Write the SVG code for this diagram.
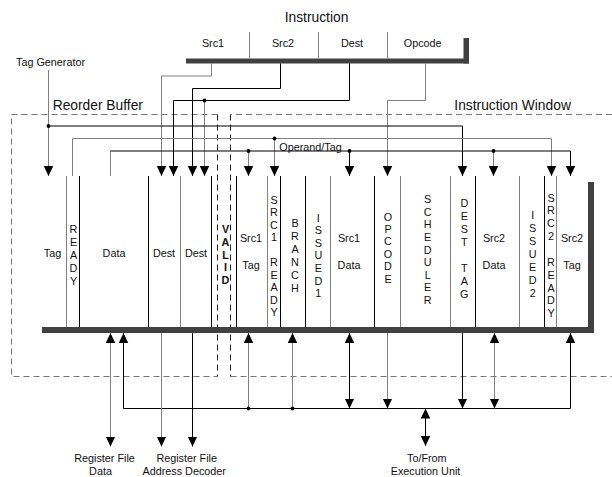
<svg xmlns="http://www.w3.org/2000/svg" width="612" height="477" viewBox="0 0 612 477">
<defs>
<marker id="ah" markerUnits="userSpaceOnUse" markerWidth="10" markerHeight="11" refX="10.5" refY="5" orient="auto-start-reverse" viewBox="0 0 10.5 10">
<path d="M0,0 L10.5,5 L0,10 z" fill="#000"/>
</marker>
</defs>
<style>
text{font-family:"Liberation Sans",Arial,sans-serif;fill:#111}
.big{font-size:13.8px}
.sm{font-size:10.8px}
.c{text-anchor:middle}
.g{stroke:#808080;stroke-width:1;fill:none}
.k{stroke:#000;stroke-width:1;fill:none}
.a{marker-end:url(#ah)}
.aa{marker-start:url(#ah);marker-end:url(#ah)}
.bar{fill:#404040}
.dash{stroke:#777;stroke-width:1;fill:none;stroke-dasharray:6 4}
.dashk{stroke:#222;stroke-width:1;fill:none;stroke-dasharray:6 4}
.dot{fill:#000}
</style>

<!-- Instruction -->
<g id="instruction">
<text class="big c" x="316.5" y="21.5">Instruction</text>
<rect class="bar" x="186" y="58.5" width="283" height="5"/>
<rect class="bar" x="463.5" y="38" width="5.5" height="25.5"/>
<line class="g" x1="249.5" y1="32" x2="249.5" y2="58.5"/>
<line class="g" x1="318.5" y1="32" x2="318.5" y2="58.5"/>
<line class="g" x1="387.5" y1="32" x2="387.5" y2="58.5"/>
<text class="sm c" x="213" y="47">Src1</text>
<text class="sm c" x="283" y="47">Src2</text>
<text class="sm c" x="352" y="47">Dest</text>
<text class="sm c" x="422.7" y="47">Opcode</text>
</g>

<g id="tag-generator">
<text class="sm" x="16" y="66">Tag Generator</text>
</g>

<!-- Dashed boxes -->
<g id="reorder-buffer">
<path class="dash" d="M217.5,114.5 H11.5 V376.5 H217.5"/>
<path class="dashk" d="M217.5,114.5 V376.5"/>
<text class="big" x="52.7" y="110">Reorder Buffer</text>
</g>
<g id="instruction-window">
<path class="dash" d="M612,114.5 H230.5 M230.5,376.5 H612"/>
<path class="dashk" d="M230.5,114.5 V376.5"/>
<text class="big" x="454.3" y="110">Instruction Window</text>
</g>

<!-- Register block -->
<g id="register-block">
<rect class="bar" x="42" y="327" width="552" height="6"/>
<rect class="bar" x="588" y="182" width="6" height="151"/>
<g>
<line class="g" x1="66.5" y1="176" x2="66.5" y2="327"/>
<line class="k" x1="79.5" y1="176" x2="79.5" y2="327"/>
<line class="k" x1="148.5" y1="176" x2="148.5" y2="327"/>
<line class="g" x1="180.5" y1="176" x2="180.5" y2="327"/>
<line class="k" x1="211.5" y1="176" x2="211.5" y2="327"/>
<line class="k" x1="236.5" y1="176" x2="236.5" y2="327"/>
<line class="g" x1="267.5" y1="176" x2="267.5" y2="327"/>
<line class="k" x1="280.5" y1="176" x2="280.5" y2="327"/>
<line class="k" x1="305.5" y1="176" x2="305.5" y2="327"/>
<line class="g" x1="330.5" y1="176" x2="330.5" y2="327"/>
<line class="k" x1="374.5" y1="176" x2="374.5" y2="327"/>
<line class="g" x1="400.5" y1="176" x2="400.5" y2="327"/>
<line class="g" x1="450.5" y1="176" x2="450.5" y2="327"/>
<line class="k" x1="475.5" y1="176" x2="475.5" y2="327"/>
<line class="g" x1="519.5" y1="176" x2="519.5" y2="327"/>
<line class="k" x1="544.5" y1="176" x2="544.5" y2="327"/>
<line class="g" x1="556.5" y1="176" x2="556.5" y2="327"/>
</g>
</g>

<g id="col-tag"><text class="sm c" x="52.5" y="257">Tag</text></g>
<g id="col-ready"><text class="sm c" y="233"><tspan x="73.5">R</tspan><tspan x="73.5" dy="12.9">E</tspan><tspan x="73.5" dy="12.9">A</tspan><tspan x="73.5" dy="12.9">D</tspan><tspan x="73.5" dy="12.9">Y</tspan></text></g>
<g id="col-data"><text class="sm c" x="114" y="257">Data</text></g>
<g id="col-dest1"><text class="sm c" x="164" y="257">Dest</text></g>
<g id="col-dest2"><text class="sm c" x="196" y="257">Dest</text></g>
<g id="col-valid"><text class="sm c" y="233" font-weight="bold"><tspan x="225.5">V</tspan><tspan x="225.5" dy="12.8">A</tspan><tspan x="225.5" dy="12.8">L</tspan><tspan x="225.5" dy="12.8">I</tspan><tspan x="225.5" dy="12.8">D</tspan></text></g>
<g id="col-src1tag"><text class="sm c" x="251" y="242">Src1</text><text class="sm c" x="251" y="269">Tag</text></g>
<g id="col-src1ready"><text class="sm c" y="203.5"><tspan x="274">S</tspan><tspan x="274" dy="12.5">R</tspan><tspan x="274" dy="12.5">C</tspan><tspan x="274" dy="12.5">1</tspan><tspan x="274" dy="25">R</tspan><tspan x="274" dy="12.5">E</tspan><tspan x="274" dy="12.5">A</tspan><tspan x="274" dy="12.5">D</tspan><tspan x="274" dy="12.5">Y</tspan></text></g>
<g id="col-branch"><text class="sm c" y="227.2"><tspan x="295">B</tspan><tspan x="295" dy="13">R</tspan><tspan x="295" dy="13">A</tspan><tspan x="295" dy="13">N</tspan><tspan x="295" dy="13">C</tspan><tspan x="295" dy="13">H</tspan></text></g>
<g id="col-issued1"><text class="sm c" y="221.6"><tspan x="318.3">I</tspan><tspan x="318.3" dy="12.6">S</tspan><tspan x="318.3" dy="12.6">S</tspan><tspan x="318.3" dy="12.6">U</tspan><tspan x="318.3" dy="12.6">E</tspan><tspan x="318.3" dy="12.6">D</tspan><tspan x="318.3" dy="12.6">1</tspan></text></g>
<g id="col-src1data"><text class="sm c" x="349" y="242">Src1</text><text class="sm c" x="349" y="269">Data</text></g>
<g id="col-opcode"><text class="sm c" y="220.6"><tspan x="388">O</tspan><tspan x="388" dy="12.4">P</tspan><tspan x="388" dy="12.4">C</tspan><tspan x="388" dy="12.4">O</tspan><tspan x="388" dy="12.4">D</tspan><tspan x="388" dy="12.4">E</tspan></text></g>
<g id="col-scheduler"><text class="sm c" y="203.2"><tspan x="427.7">S</tspan><tspan x="427.7" dy="12.6">C</tspan><tspan x="427.7" dy="12.6">H</tspan><tspan x="427.7" dy="12.6">E</tspan><tspan x="427.7" dy="12.6">D</tspan><tspan x="427.7" dy="12.6">U</tspan><tspan x="427.7" dy="12.6">L</tspan><tspan x="427.7" dy="12.6">E</tspan><tspan x="427.7" dy="12.6">R</tspan></text></g>
<g id="col-desttag"><text class="sm c" y="207.2"><tspan x="464.3">D</tspan><tspan x="464.3" dy="12.95">E</tspan><tspan x="464.3" dy="12.95">S</tspan><tspan x="464.3" dy="12.95">T</tspan><tspan x="464.3" dy="25.9">T</tspan><tspan x="464.3" dy="12.95">A</tspan><tspan x="464.3" dy="12.95">G</tspan></text></g>
<g id="col-src2data"><text class="sm c" x="494" y="242">Src2</text><text class="sm c" x="494" y="269">Data</text></g>
<g id="col-issued2"><text class="sm c" y="219"><tspan x="532.7">I</tspan><tspan x="532.7" dy="13">S</tspan><tspan x="532.7" dy="13">S</tspan><tspan x="532.7" dy="13">U</tspan><tspan x="532.7" dy="13">E</tspan><tspan x="532.7" dy="13">D</tspan><tspan x="532.7" dy="13">2</tspan></text></g>
<g id="col-src2ready"><text class="sm c" y="201.6"><tspan x="551">S</tspan><tspan x="551" dy="12.85">R</tspan><tspan x="551" dy="12.85">C</tspan><tspan x="551" dy="12.85">2</tspan><tspan x="551" dy="25.7">R</tspan><tspan x="551" dy="12.85">E</tspan><tspan x="551" dy="12.85">A</tspan><tspan x="551" dy="12.85">D</tspan><tspan x="551" dy="12.85">Y</tspan></text></g>
<g id="col-src2tag"><text class="sm c" x="572" y="242">Src2</text><text class="sm c" x="572" y="269">Tag</text></g>

<g id="operand-tag-label"><text class="sm" x="279.3" y="150.5">Operand/Tag</text></g>

<!-- Bottom labels -->
<g id="register-file-data"><text class="sm c" x="104.5" y="462">Register File</text><text class="sm c" x="100.5" y="475">Data</text></g>
<g id="register-file-address-decoder"><text class="sm c" x="186.7" y="462">Register File</text><text class="sm c" x="184.2" y="475">Address Decoder</text></g>
<g id="execution-unit"><text class="sm c" x="426.8" y="462">To/From</text><text class="sm c" x="425.5" y="475">Execution Unit</text></g>

<!-- Connectors -->
<g id="connectors">
<!-- top -->
<path class="g a" d="M211.5,63.5 V76 H161.5 V176"/>
<path class="k a" d="M280.5,63.5 V88.5 H192.5 V176"/>
<path class="k a" d="M349.5,63.5 V100.5 H173.5 V176"/>
<path class="g a" d="M204.5,100.5 V176"/>
<path class="g a" d="M425.5,63.5 V100.5 H387.5 V176"/>
<path class="g a" d="M48.5,70 V176"/>
<path class="k a" d="M48.5,126 H462.5 V176"/>
<path class="g" d="M72.5,176 V138.5 H551.5"/>
<path class="g a" d="M551.5,138.5 V176"/>
<path class="g a" d="M274.5,138.5 V176"/>
<path class="g" d="M110.5,176 V151"/>
<path class="k a" d="M110.5,151 H570.5 V176"/>
<path class="g a" d="M248.5,151 V176"/>
<path class="k a" d="M349.5,151 V176"/>
<path class="g a" d="M493.5,151 V176"/>
<circle class="dot" cx="204.5" cy="100.5" r="1.9"/>
<circle class="dot" cx="48.5" cy="126" r="1.9"/>
<circle class="dot" cx="274.5" cy="138.5" r="1.9"/>
<circle class="dot" cx="248.5" cy="151" r="1.9"/>
<circle class="dot" cx="349.5" cy="151" r="1.9"/>
<circle class="dot" cx="493.5" cy="151" r="1.9"/>
<!-- bottom -->
<path class="g aa" d="M110.5,333 V446.5"/>
<path class="k aa" d="M123.5,333 V408.5 H570.5 V333"/>
<path class="g a" d="M161.5,333 V446.5"/>
<path class="k a" d="M192.5,333 V446.5"/>
<path class="g a" d="M248.5,408.5 V333"/>
<path class="g a" d="M292.5,408.5 V333"/>
<path class="k aa" d="M349.5,333 V408.5"/>
<path class="g a" d="M387.5,333 V408.5"/>
<path class="k a" d="M462.5,333 V408.5"/>
<path class="g aa" d="M494.5,333 V408.5"/>
<path class="k aa" d="M425.5,408.5 V446"/>
<circle class="dot" cx="248.5" cy="408.5" r="1.9"/>
<circle class="dot" cx="292.5" cy="408.5" r="1.9"/>
</g>
</svg>
